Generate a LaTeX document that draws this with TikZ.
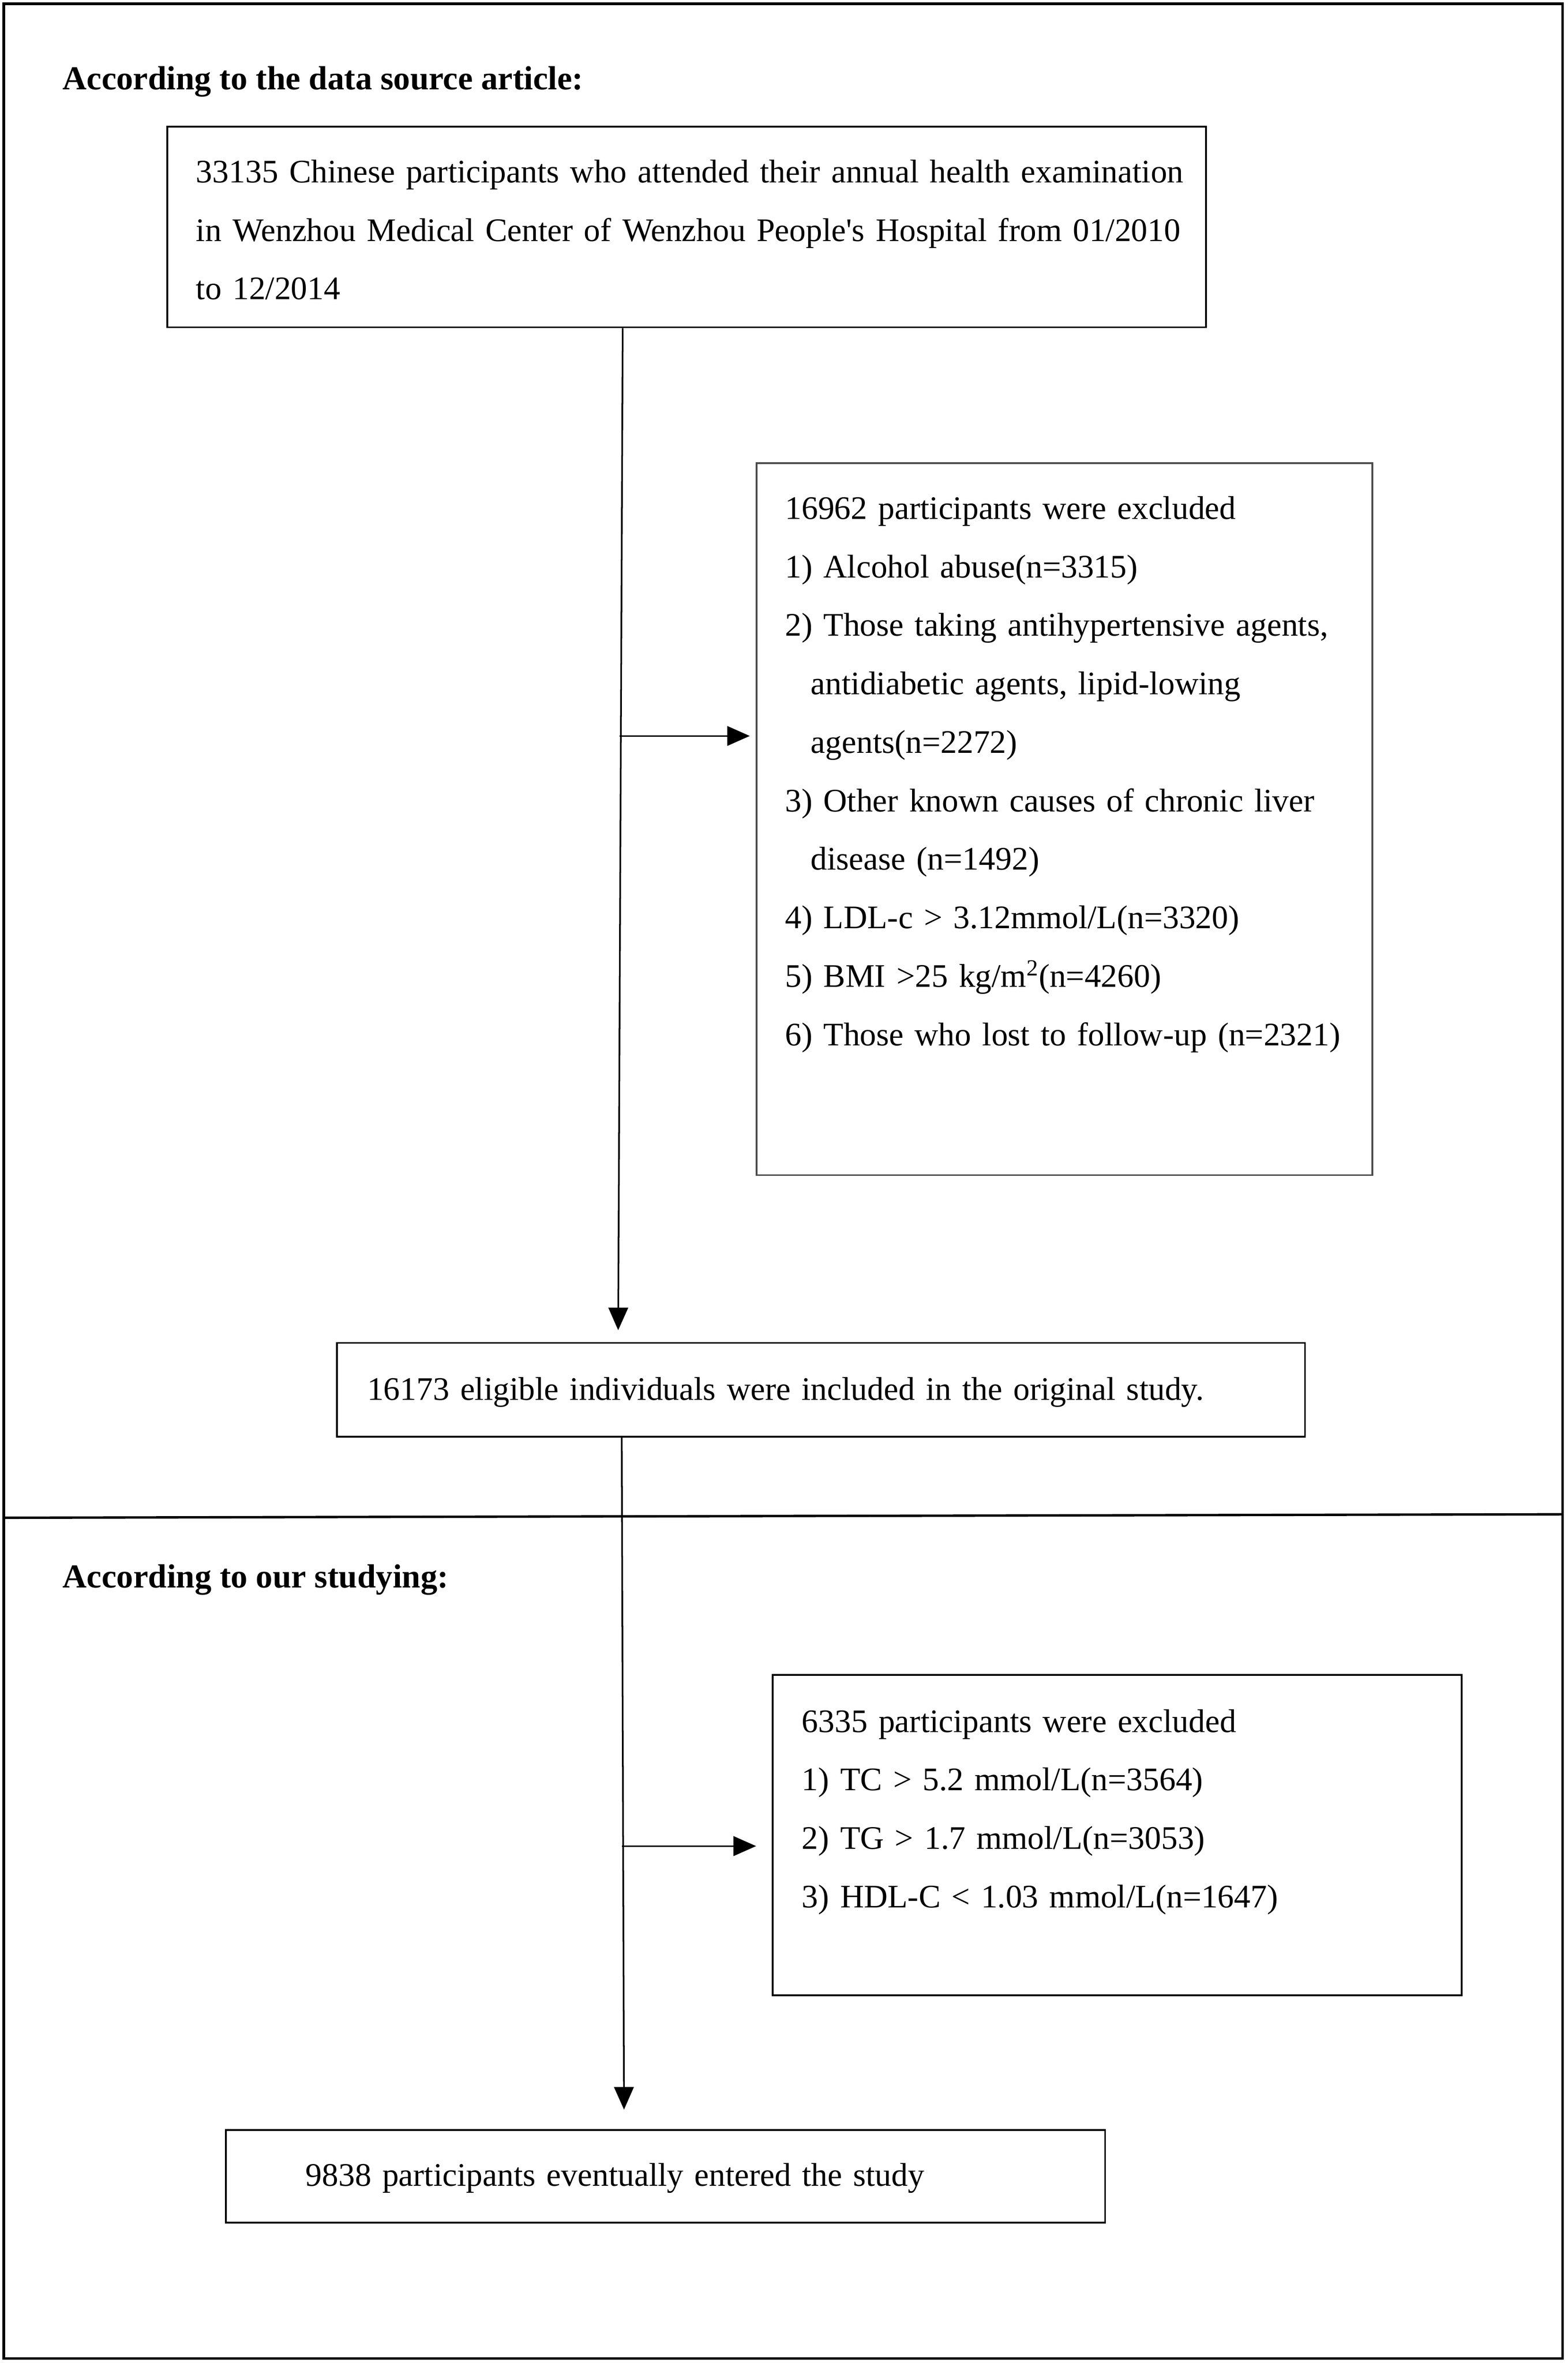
\documentclass[tikz,border=0pt]{standalone}
\usepackage{fontspec}
\setmainfont{Liberation Serif}
\usetikzlibrary{arrows.meta}

\tikzset{every picture/.style={line width=1.1pt}}
\tikzset{
  frame/.style={line width=1.6pt},
  box/.style={draw,line width=1.2pt,anchor=north west,align=left,inner ysep=0pt,
    font=\fontsize{21.8}{38.8}\selectfont},
  head/.style={anchor=base west,inner sep=0pt,font=\fontsize{22.2}{26}\selectfont\bfseries},
  arrow/.style={-{Triangle[length=15pt,width=13pt]},line width=1.1pt}
}
\newcommand{\indt}{\hspace*{17pt}}

\begin{document}
\begin{tikzpicture}[x=1pt,y=-1pt]
\useasboundingbox (0,0) rectangle (1040,1567.5);
\draw[frame] (2.5,2.5) rectangle (1036.5,1564.5); %外枠
\draw[frame] (2.5,1006.8)--(1036.5,1004.5); %区切り線

\node[head] (h1) at (41,59.5) {According to the data source article:};
\node[head] (h2) at (41.1,1053.2) {According to our studying:};

\node[box,inner xsep=19pt,text width=651pt,text height=37pt,text depth=96pt] (src) at (110.5,83.5)
  {\mbox{33135 Chinese participants who attended their annual health examination}\\
   \mbox{in Wenzhou Medical Center of Wenzhou People\textquotesingle s Hospital from 01/2010}\\
   to 12/2014};
\node[box,draw=black!70,line width=1pt,inner xsep=19pt,text width=370.5pt,text height=37.1pt,text depth=435.2pt] (excl1) at (501.4,306.7)
  {16962 participants were excluded\\
   1) Alcohol abuse(n=3315)\\
   \mbox{2) Those taking antihypertensive agents,}\\
   \indt antidiabetic agents, lipid-lowing\\
   \indt agents(n=2272)\\
   \mbox{3) Other known causes of chronic liver}\\
   \indt disease (n=1492)\\
   4) LDL-c > 3.12mmol/L(n=3320)\\
   5) BMI >25 kg/m\textsuperscript{2}(n=4260)\\
   \mbox{6) Those who lost to follow-up (n=2321)}};
\node[box,inner xsep=20pt,text width=602.1pt,text height=37.9pt,text depth=24.4pt] (incl) at (223,890.2)
  {16173 eligible individuals were included in the original study.};
\node[box,inner xsep=19.4pt,text width=418.2pt,text height=37.9pt,text depth=174.7pt] (excl2) at (512,1110.5)
  {6335 participants were excluded\\
   1) TC > 5.2 mmol/L(n=3564)\\
   2) TG > 1.7 mmol/L(n=3053)\\
   3) HDL-C < 1.03 mmol/L(n=1647)};
\node[box,inner xsep=52.9pt,text width=477.4pt,text height=37.2pt,text depth=24.2pt] (final) at (149.3,1412.4)
  {9838 participants eventually entered the study};

\coordinate (b1) at (411,488.2); %分岐点
\coordinate (b2) at (412.7,1224.6);
\draw[arrow,shorten >=7.8pt] ([xshift=-42.5pt]src.south)--([xshift=-134.6pt]incl.north);
\draw[arrow,shorten >=4pt] (b1)--(b1-|excl1.west);
\draw[arrow,shorten >=13pt] ([xshift=-132.2pt]incl.south)--([xshift=-27.5pt]final.north);
\draw[arrow,shorten >=10.4pt] (b2)--(b2-|excl2.west);
\end{tikzpicture}
\end{document}
